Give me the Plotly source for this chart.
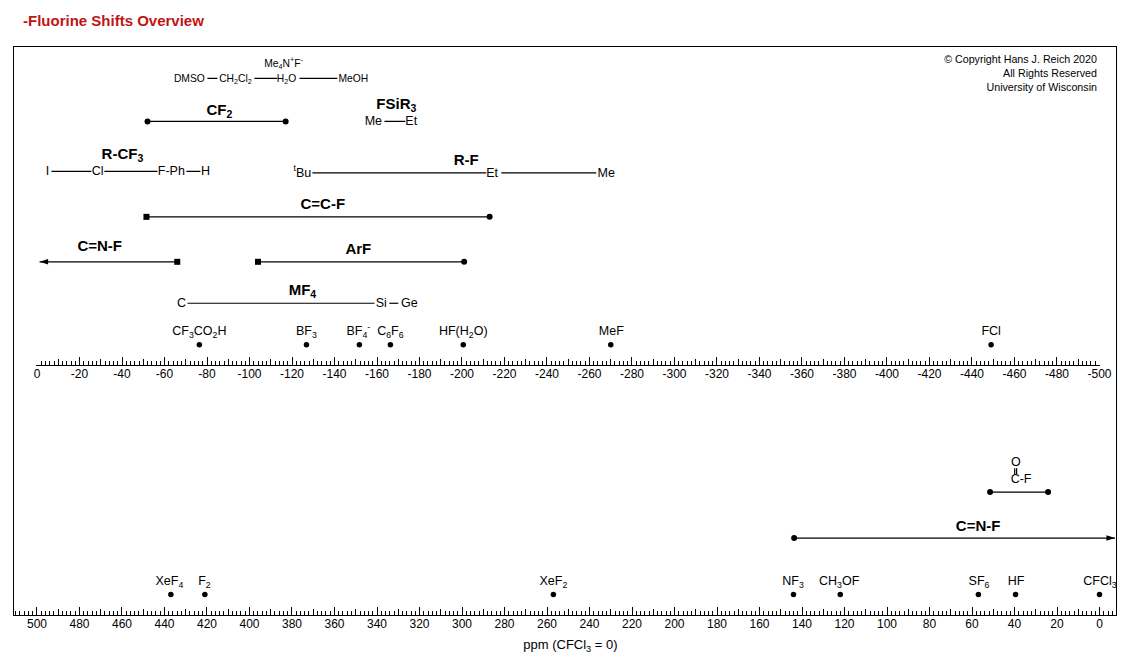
import plotly.graph_objects as go

FONT = "Liberation Sans, Arial, sans-serif"
BLACK = "#000000"
TITLE = "-Fluorine Shifts Overview"
TITLE_RED = "#c01414"

# ---- axis ticks
UP_MAJOR = [-v for v in range(0, 501, 20)]
UP_MAJOR_LABELS = ["0"] + [f"-{v}" for v in range(20, 501, 20)]
UP_MEDIUM = [-v for v in range(10, 500, 20)]
LOW_MAJOR = list(range(0, 501, 20))
LOW_MAJOR_LABELS = [str(v) for v in LOW_MAJOR]
LOW_MEDIUM = list(range(10, 500, 20))

# ---- upper scale: reference compounds
UP_REF_NAMES = ["CF<sub>3</sub>CO<sub>2</sub>H", "BF<sub>3</sub>", "BF<sub>4</sub><sup>-</sup>",
                "C<sub>6</sub>F<sub>6</sub>", "HF(H<sub>2</sub>O)", "MeF", "FCl"]
UP_REF_PPM = [-76.4, -126.8, -151.7, -166.3, -200.6, -270.0, -449.0]
UP_REF_LABEL_PPM = [-76.4, -126.8, -151.2, -166.3, -200.6, -270.3, -449.0]

# ---- lower scale: reference compounds
LOW_REF_NAMES = ["XeF<sub>4</sub>", "F<sub>2</sub>", "XeF<sub>2</sub>", "NF<sub>3</sub>",
                 "CH<sub>3</sub>OF", "SF<sub>6</sub>", "HF", "CFCl<sub>3</sub>"]
LOW_REF_PPM = [437.0, 421.0, 257.0, 144.0, 122.0, 57.0, 39.5, 0.0]
LOW_REF_LABEL_PPM = [437.7, 421.2, 257.0, 144.2, 122.5, 56.7, 39.3, -0.2]

# ---- ranges with end markers
CF2_RANGE = [-52.0, -117.0]
CCF_RANGE = [-51.5, -213.0]
CNF_RANGE = [-66.0, -1.2]
ARF_RANGE = [-104.0, -201.0]
COF_RANGE = [51.5, 24.2]
CNF_LOW_RANGE = [143.7, -7.3]

# ---- chains of compounds: (name, ppm) then links between neighbours
SOLVENT_NAMES = ["DMSO", "CH<sub>2</sub>Cl<sub>2</sub>", "H<sub>2</sub>O", "MeOH"]
SOLVENT_PPM = [-71.7, -93.4, -117.4, -148.9]
SOLVENT_LINKS = [[-80.2, -84.9], [-102.3, -113.1], [-123.5, -141.3]]

FSI_NAMES = ["Me", "Et"]
FSI_PPM = [-158.3, -176.1]
FSI_LINKS = [[-163.5, -173.3]]

RCF3_NAMES = ["I", "Cl", "F-Ph", "H"]
RCF3_PPM = [-4.9, -28.5, -63.2, -79.3]
RCF3_LINKS = [[-6.8, -25.6], [-31.7, -56.7], [-70.3, -76.9]]

RF_NAMES = ["<sup>t</sup>Bu", "Et", "Me"]
RF_PPM = [-124.9, -214.2, -267.9]
RF_LINKS = [[-129.6, -211.4], [-218.5, -263.2]]

MF4_NAMES = ["C", "Si", "Ge"]
MF4_PPM = [-68.0, -162.0, -175.2]
MF4_LINKS = [[-70.8, -158.8], [-165.8, -170.0]]

# ---- group headings
HEAD_UP_NAMES = ["CF<sub>2</sub>", "FSiR<sub>3</sub>", "R-CF<sub>3</sub>", "R-F", "C=C-F", "C=N-F", "ArF", "MF<sub>4</sub>"]
HEAD_UP_PPM = [-85.8, -169.1, -40.2, -202.0, -134.5, -29.5, -151.2, -124.9]
HEAD_UP_ROW = [111, 104.5, 155, 160.5, 204.7, 246.7, 249.7, 291]

COPYRIGHT = ["© Copyright Hans J. Reich 2020", "All Rights Reserved", "University of Wisconsin"]
COPYRIGHT_ROW = [59.7, 73.7, 87.7]

# vertical layout rows on the hidden y axis
ROW_REF_UP, ROW_REFLABEL_UP = 344.5, 331.8
ROW_REF_LOW, ROW_REFLABEL_LOW = 594.5, 581.8
ROW_SOLV, ROW_CF2, ROW_RCF3, ROW_RF, ROW_CCF, ROW_ARF, ROW_MF4 = 78, 121, 171, 172.5, 216.5, 261.5, 303
ROW_COF, ROW_CNF = 492, 538

# geometry of the frame and the upper scale, in page pixels
W, H = 1130, 661
L, R, T, B = 13.5, 1116.0, 46.5, 615.0
X0, X500 = 36.5, 1099.5
PX = (X500 - X0) / 500
UP_POS = (B - 365.0) / (B - T)
UP_RANGE = [0.25, -500.25]
UP_DOMAIN = [(X0 - 0.5 - L) / (R - L), (X500 + 0.5 - L) / (R - L)]
LOW_RANGE = [500 + (X0 - L) / PX, -(R - X500) / PX]

fig = go.Figure()


def text(x, y, labels, size, axis, bold=False, pos="middle center", cliponaxis=True):
    if bold:
        labels = [f"<b>{s}</b>" for s in labels]
    fig.add_trace(go.Scatter(x=x, y=y, xaxis=axis, yaxis="y", mode="text", text=labels,
                             textposition=pos, cliponaxis=cliponaxis,
                             textfont=dict(family=FONT, size=size, color=BLACK),
                             hoverinfo="skip", showlegend=False))


def segment(x, y, axis, start=None, end=None):
    sym = [start or "circle", end or "circle"]
    sizes = [6 if start else 0, 6 if end else 0]
    fig.add_trace(go.Scatter(x=x, y=y, xaxis=axis, yaxis="y", mode="lines+markers",
                             line=dict(color=BLACK, width=1.2),
                             marker=dict(symbol=sym, size=sizes, color=BLACK, opacity=1, line=dict(width=0)),
                             cliponaxis=False, hoverinfo="skip", showlegend=False))


def arrowhead(x, row, axis, angle):
    fig.add_trace(go.Scatter(x=[x], y=[row], xaxis=axis, yaxis="y", mode="markers", cliponaxis=False,
                             marker=dict(symbol="arrow", angle=angle, size=9, color=BLACK, line=dict(width=0)),
                             hoverinfo="skip", showlegend=False))


def chain(names, ppm, links, row, size=12.5):
    text(ppm, [row + 0.6] * len(ppm), names, size, "x2")
    for a, b in links:
        segment([a, b], [row, row], "x2")


# upper scale
fig.add_trace(go.Scatter(x=UP_REF_PPM, y=[ROW_REF_UP] * len(UP_REF_PPM), xaxis="x2", yaxis="y", mode="markers",
                         marker=dict(color=BLACK, size=5.5), hoverinfo="skip", showlegend=False))
text(UP_REF_LABEL_PPM, [ROW_REFLABEL_UP] * len(UP_REF_PPM), UP_REF_NAMES, 12.5, "x2")
text(HEAD_UP_PPM, HEAD_UP_ROW, HEAD_UP_NAMES, 15, "x2", bold=True)

segment(CF2_RANGE, [ROW_CF2] * 2, "x2", "circle", "circle")
segment(CCF_RANGE, [ROW_CCF] * 2, "x2", "square", "circle")
segment(CNF_RANGE, [ROW_ARF] * 2, "x2", "square", None)
segment(ARF_RANGE, [ROW_ARF] * 2, "x2", "square", "circle")
arrowhead(CNF_RANGE[1], ROW_ARF, "x2", 270)

chain(SOLVENT_NAMES, SOLVENT_PPM, SOLVENT_LINKS, ROW_SOLV, size=10.3)
text([-116.0], [63.5], ["Me<sub>4</sub>N<sup>+</sup>F<sup>-</sup>"], 10.3, "x2")
chain(FSI_NAMES, FSI_PPM, FSI_LINKS, ROW_CF2)
chain(RCF3_NAMES, RCF3_PPM, RCF3_LINKS, ROW_RCF3)
chain(RF_NAMES, RF_PPM, RF_LINKS, ROW_RF)
chain(MF4_NAMES, MF4_PPM, MF4_LINKS, ROW_MF4)

# lower scale
fig.add_trace(go.Scatter(x=LOW_REF_PPM, y=[ROW_REF_LOW] * len(LOW_REF_PPM), xaxis="x", yaxis="y", mode="markers",
                         marker=dict(color=BLACK, size=5.5), hoverinfo="skip", showlegend=False))
text(LOW_REF_LABEL_PPM, [ROW_REFLABEL_LOW] * len(LOW_REF_PPM), LOW_REF_NAMES, 12.5, "x")
text([57.1], [526.7], ["C=N-F"], 15, "x", bold=True)
segment(COF_RANGE, [ROW_COF] * 2, "x", "circle", "circle")
segment(CNF_LOW_RANGE, [ROW_CNF] * 2, "x", "circle", None)
arrowhead(CNF_LOW_RANGE[1], ROW_CNF, "x", 90)
text([39.3], [462.5], ["O"], 12.5, "x")
text([36.9], [479.8], ["C-F"], 12.5, "x")
segment([39.9, 39.9], [468, 474], "x")
segment([39.0, 39.0], [468, 474], "x")

# copyright block
text([1.2] * 3, COPYRIGHT_ROW, COPYRIGHT, 10.7, "x", pos="middle left")

tick_font = dict(family=FONT, size=12, color=BLACK)
base = dict(showgrid=False, zeroline=False, ticks="inside", tickcolor=BLACK, tickwidth=1, tickfont=tick_font,
            ticklabelstandoff=-3)

fig.update_layout(
    width=W, height=H,
    margin=dict(l=L, r=W - R, t=T, b=H - B, pad=0, autoexpand=False),
    paper_bgcolor="white", plot_bgcolor="rgba(0,0,0,0)",
    showlegend=False,
    title=dict(text=f"<b>{TITLE}</b>", x=23 / W, xanchor="left", y=1 - 21 / H, yanchor="middle",
               font=dict(family=FONT, size=15, color=TITLE_RED)),
    xaxis=dict(**base, range=LOW_RANGE, domain=[0, 1], anchor="y", tickmode="array", tickvals=LOW_MAJOR,
               ticktext=LOW_MAJOR_LABELS, ticklen=8, showline=True, linecolor=BLACK, linewidth=1.3, mirror=True,
               minor=dict(ticks="inside", dtick=2, tick0=0, ticklen=4, tickcolor=BLACK, tickwidth=1),
               title=dict(text="&nbsp;&nbsp;&nbsp;ppm (CFCl<sub>3</sub> = 0)", standoff=10,
                          font=dict(family=FONT, size=13, color=BLACK))),
    xaxis2=dict(**base, range=UP_RANGE, domain=UP_DOMAIN, anchor="free", position=UP_POS, tickmode="array",
                tickvals=UP_MAJOR, ticktext=UP_MAJOR_LABELS, ticklen=8, showline=True, linecolor=BLACK, linewidth=1,
                minor=dict(ticks="inside", dtick=2, tick0=0, ticklen=4, tickcolor=BLACK, tickwidth=1)),
    xaxis3=dict(range=LOW_RANGE, domain=[0, 1], anchor="y", overlaying="x", showgrid=False, zeroline=False,
                ticks="inside", tickmode="array", tickvals=LOW_MEDIUM, showticklabels=False, ticklen=6,
                tickcolor=BLACK, tickwidth=1),
    xaxis4=dict(range=UP_RANGE, domain=UP_DOMAIN, anchor="free", position=UP_POS, overlaying="x2", showgrid=False,
                zeroline=False, ticks="inside", tickmode="array", tickvals=UP_MEDIUM, showticklabels=False,
                ticklen=6, tickcolor=BLACK, tickwidth=1),
    yaxis=dict(range=[B, T], domain=[0, 1], anchor="x", showgrid=False, zeroline=False, showticklabels=False,
               ticks="", showline=True, linecolor=BLACK, linewidth=1.3, mirror=True),
)

# carriers so that the overlaid tick axes are drawn
fig.add_trace(go.Scatter(x=[], y=[], xaxis="x3", yaxis="y", hoverinfo="skip", showlegend=False))
fig.add_trace(go.Scatter(x=[], y=[], xaxis="x4", yaxis="y", hoverinfo="skip", showlegend=False))

fig.write_html("out.html", config={"displayModeBar": False}, post_script="document.body.style.margin='0';")
